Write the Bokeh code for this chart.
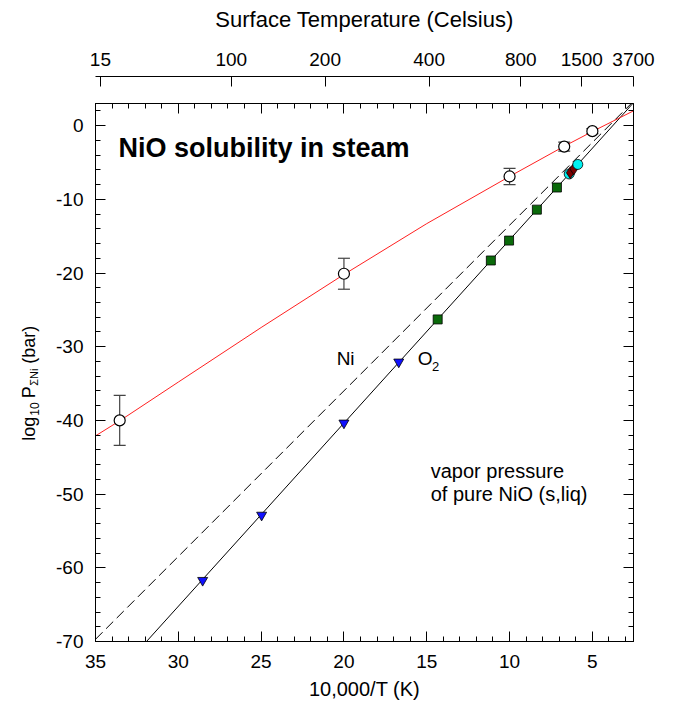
import math
from bokeh.plotting import figure
from bokeh.layouts import row, column
from bokeh.models import (Range1d, LinearAxis, FixedTicker, Label, Whisker, TeeHead,
                          ColumnDataSource, CustomJSTickFormatter, SingleIntervalTicker,
                          AllLabels)
from bokeh.embed import file_html
from bokeh.resources import INLINE

FONT = "Liberation Sans"

# ---------------- data ----------------
# open circles: measured NiO solubility in steam, with error bars
open_x = [33.54, 20.0, 10.0, 6.7, 5.0]
open_y = [-40.0, -20.1, -6.9, -2.85, -0.75]
open_err = [3.4, 2.1, 1.1, 0.6, 0.35]

# red fitted curve through the solubility data
fit_x = [35.0, 33.5, 30.0, 25.0, 20.0, 15.0, 10.0, 6.7, 5.0, 2.517]
fit_y = [-42.1, -40.0, -34.8, -27.4, -20.2, -13.3, -6.9, -2.8, -0.8, 2.0]

# vapor pressure of pure NiO: O2 (solid) and Ni (dashed) lines
o2_x = [31.92, 2.517]
o2_y = [-70.0, 3.1]
ni_x = [35.0, 2.517]
ni_y = [-69.7, 3.3]

# symbols on the vapor-pressure line
tri_x = [28.53, 24.97, 20.0, 16.69]
tri_y = [-61.7, -52.85, -40.35, -32.07]

sq_x = [14.34, 11.13, 10.03, 8.35, 7.14]
sq_y = [-26.3, -18.3, -15.6, -11.4, -8.4]

red_x = [6.33, 6.12]
red_y = [-6.38, -5.86]

cyan_x = [6.40, 5.88]
cyan_y = [-6.56, -5.27]

# top axis tick labels (Celsius)
celsius_ticks = [15, 100, 200, 400, 800, 1500, 3700]

# ---------------- layout sizes ----------------
W, H = 673, 715
LAB_W = 50          # strip holding the rotated y-axis title
TOP_H = 102         # strip holding the Celsius axis
FRAME_L, FRAME_R = 95, 40

def style_ticks(ax):
    ax.major_tick_in = 10
    ax.major_tick_out = 0
    ax.minor_tick_in = 5
    ax.minor_tick_out = 0
    ax.axis_line_color = "black"
    ax.major_tick_line_color = "black"
    ax.minor_tick_line_color = "black"
    ax.major_label_text_font = FONT
    ax.major_label_text_color = "black"
    ax.axis_label_text_font = FONT
    ax.axis_label_text_font_style = "normal"
    ax.axis_label_text_color = "black"

def lab(fig, x, y, text, size, angle=0.0, bold=False, baseline="middle", align="left"):
    fig.add_layout(Label(x=x, y=y, text=text, text_font=FONT, text_font_size=size,
                         text_font_style="bold" if bold else "normal",
                         text_color="black", angle=angle,
                         text_align=align, text_baseline=baseline))

xr = Range1d(35, 2.5168)
yr = Range1d(-70, 3)

# ---------------- main figure ----------------
p = figure(width=W - LAB_W, height=H - TOP_H,
           x_range=xr, y_range=yr,
           output_backend="svg", toolbar_location=None,
           min_border_left=FRAME_L - LAB_W, min_border_right=FRAME_R,
           min_border_top=1, min_border_bottom=74)
p.xgrid.visible = False
p.ygrid.visible = False
p.outline_line_color = "black"
p.background_fill_color = "white"
p.border_fill_color = "white"

int_fmt = CustomJSTickFormatter(code="return tick.toFixed(0);")
blank_fmt = CustomJSTickFormatter(code="return '';")

xt = SingleIntervalTicker(interval=5, num_minor_ticks=5)
yt = SingleIntervalTicker(interval=10, num_minor_ticks=5)

xa = p.xaxis[0]
xa.ticker = xt
xa.formatter = int_fmt
style_ticks(xa)
xa.major_label_text_font_size = "19px"
xa.major_label_standoff = 13
xa.axis_label = "10,000/T (K)"
xa.axis_label_text_font_size = "20px"
xa.axis_label_standoff = 7

ya = p.yaxis[0]
ya.ticker = yt
ya.formatter = int_fmt
style_ticks(ya)
ya.major_label_text_font_size = "19px"
ya.major_label_standoff = 12

# mirror axes (ticks only) on top and right of the frame
top_mirror = LinearAxis(ticker=xt, formatter=blank_fmt)
style_ticks(top_mirror)
top_mirror.major_label_text_font_size = "10px"
top_mirror.major_label_standoff = 0
p.add_layout(top_mirror, "above")

right_mirror = LinearAxis(ticker=yt, formatter=blank_fmt)
style_ticks(right_mirror)
right_mirror.major_label_text_font_size = "10px"
right_mirror.major_label_standoff = 0
p.add_layout(right_mirror, "right")

# ---------------- glyphs ----------------
p.line(ni_x, ni_y, line_color="black", line_width=1, line_dash="10 5")
p.line(o2_x, o2_y, line_color="black", line_width=1)
p.line(fit_x, fit_y, line_color="#FF2020", line_width=1)

src = ColumnDataSource(dict(
    x=open_x, y=open_y,
    upper=[v + e for v, e in zip(open_y, open_err)],
    lower=[v - e for v, e in zip(open_y, open_err)]))
wh = Whisker(source=src, base="x", upper="upper", lower="lower",
             line_color="#444444", line_width=1.2,
             upper_head=TeeHead(size=12, line_color="#444444", line_width=1.2),
             lower_head=TeeHead(size=12, line_color="#444444", line_width=1.2),
             level="underlay")
p.add_layout(wh)
p.scatter("x", "y", source=src, marker="circle", size=11,
          fill_color="white", line_color="black", line_width=1.2)

p.scatter(tri_x, tri_y, marker="inverted_triangle", size=10,
          fill_color="#1010FF", line_color="black", line_width=0.8)
p.scatter(sq_x, sq_y, marker="square", size=9,
          fill_color="#0A6A0A", line_color="black", line_width=0.8)
p.scatter(cyan_x[:1], cyan_y[:1], marker="circle", size=10,
          fill_color="#00F0F0", line_color="black", line_width=0.8)
p.scatter(red_x, red_y, marker="diamond", size=12,
          fill_color="#7A0000", line_color="black", line_width=0.8)
p.scatter(cyan_x[1:], cyan_y[1:], marker="circle", size=10,
          fill_color="#00F0F0", line_color="black", line_width=0.8)

lab(p, 33.61, -2.99, "NiO solubility in steam", "27px", bold=True)
lab(p, 14.76, -46.9, "vapor pressure", "20px")
lab(p, 14.76, -50.0, "of pure NiO (s,liq)", "20px")
lab(p, 20.44, -31.66, "Ni", "19px")
lab(p, 15.54, -31.66, "O", "19px")
lab(p, 14.68, -32.7, "2", "13px")

# ---------------- top strip: Celsius axis ----------------
top = figure(width=W, height=TOP_H, x_range=xr, y_range=Range1d(0, 1),
             output_backend="svg", toolbar_location=None,
             x_axis_location=None, y_axis_location=None, title=None,
             min_border_left=FRAME_L, min_border_right=FRAME_R,
             min_border_top=76, min_border_bottom=0)
top.xgrid.visible = False
top.ygrid.visible = False
top.outline_line_color = None
top.background_fill_color = "white"
top.border_fill_color = "white"

cel_axis = LinearAxis(
    ticker=FixedTicker(ticks=[10000.0 / (c + 273.15) for c in celsius_ticks], minor_ticks=[]),
    formatter=CustomJSTickFormatter(code="return String(Math.round(10000/tick - 273.15));"),
    axis_label="Surface Temperature (Celsius)",
    major_label_policy=AllLabels())
style_ticks(cel_axis)
cel_axis.major_tick_in = 10
cel_axis.minor_tick_in = 0
cel_axis.major_label_text_font_size = "19px"
cel_axis.major_label_standoff = 11
cel_axis.axis_label_text_font_size = "22px"
cel_axis.axis_label_standoff = 18
top.add_layout(cel_axis, "above")

# ---------------- left strip: rotated y-axis title with subscripts ----------------
# the strip's frame is aligned with the main frame, so it shares the y data range
ylab = figure(width=LAB_W, height=H - TOP_H, x_range=Range1d(0, LAB_W), y_range=yr,
              output_backend="svg", toolbar_location=None,
              x_axis_location=None, y_axis_location=None, title=None,
              min_border_left=0, min_border_right=0, min_border_top=1, min_border_bottom=74)
ylab.xgrid.visible = False
ylab.ygrid.visible = False
ylab.outline_line_color = None
ylab.background_fill_color = "white"
ylab.border_fill_color = "white"

ang = math.pi / 2
lab(ylab, 28, -42.77, "log", "18px", angle=ang)
lab(ylab, 33.5, -39.37, "10", "12px", angle=ang)
lab(ylab, 28, -37.0, "P", "18px", angle=ang)
lab(ylab, 33.5, -35.3, "\u03a3Ni", "11px", angle=ang)
lab(ylab, 28, -32.3, "(bar)", "18px", angle=ang)

layout = column(top, row(ylab, p))
open("out.html", "w").write(file_html(layout, INLINE))
